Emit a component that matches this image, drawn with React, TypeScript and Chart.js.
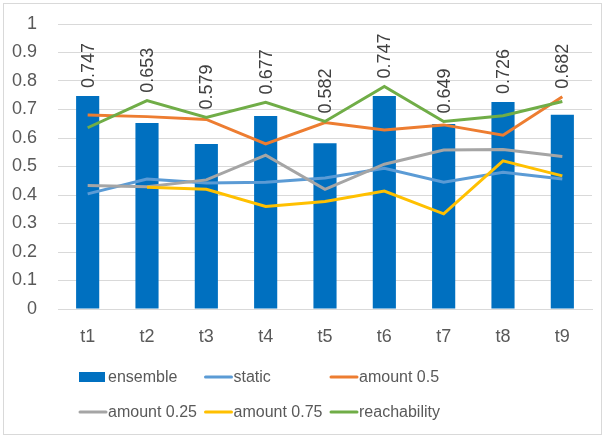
import React, { useEffect, useRef } from "react";
import { Chart, registerables } from "chart.js";

Chart.register(...registerables);

const categories = ["t1", "t2", "t3", "t4", "t5", "t6", "t7", "t8", "t9"];
const ensemble = [0.747, 0.653, 0.579, 0.677, 0.582, 0.747, 0.649, 0.726, 0.682];
const staticVals = [0.404, 0.456, 0.442, 0.445, 0.46, 0.494, 0.445, 0.48, 0.456];
const amount05 = [0.681, 0.675, 0.665, 0.579, 0.654, 0.628, 0.646, 0.61, 0.745];
const amount025 = [0.433, 0.429, 0.453, 0.54, 0.42, 0.508, 0.558, 0.56, 0.535];
const amount075 = [null, 0.427, 0.42, 0.36, 0.377, 0.414, 0.334, 0.52, 0.467];
const reachability = [0.636, 0.731, 0.672, 0.725, 0.658, 0.781, 0.658, 0.678, 0.728];
const yTicks = [0, 0.1, 0.2, 0.3, 0.4, 0.5, 0.6, 0.7, 0.8, 0.9, 1];

const FONT = '"Liberation Sans", Arial, sans-serif';
const TEXT = "#595959";

const extras = {
  id: "extras",
  beforeDraw(chart: any) {
    const ctx = chart.ctx;
    ctx.save();
    ctx.fillStyle = "#ffffff";
    ctx.fillRect(0, 0, chart.width, chart.height);
    ctx.strokeStyle = "#d9d9d9";
    ctx.lineWidth = 1;
    ctx.strokeRect(3.5, 3.5, chart.width - 7, chart.height - 6);
    ctx.restore();
  },
  afterDatasetsDraw(chart: any) {
    const ctx = chart.ctx;
    const yScale = chart.scales.y;
    const barMeta = chart.getDatasetMeta(0);
    ctx.save();
    ctx.font = `18px ${FONT}`;
    ctx.fillStyle = "#404040";
    ctx.textAlign = "left";
    ctx.textBaseline = "middle";
    barMeta.data.forEach((el: any, i: number) => {
      let top = el.y;
      chart.data.datasets.forEach((ds: any) => {
        const v = ds.data[i];
        if (v == null) return;
        top = Math.min(top, yScale.getPixelForValue(v));
      });
      ctx.save();
      ctx.translate(el.x + 1, top - 8);
      ctx.rotate(-Math.PI / 2);
      ctx.fillText(ensemble[i].toFixed(3), 0, 0);
      ctx.restore();
    });
    ctx.restore();
  },
  afterDraw(chart: any) {
    const ctx = chart.ctx;
    const area = chart.chartArea;
    const left = area.left + 21;
    const colW = 125.5;
    const rows = [area.bottom + 68, area.bottom + 103];
    ctx.save();
    ctx.font = `16px ${FONT}`;
    ctx.fillStyle = TEXT;
    ctx.textBaseline = "middle";
    ctx.textAlign = "left";
    chart.data.datasets.forEach((ds: any, i: number) => {
      const col = i % 3;
      const row = Math.floor(i / 3);
      const x = left + col * colW;
      const y = rows[row];
      if (ds.type === "bar") {
        ctx.fillStyle = ds.backgroundColor;
        ctx.fillRect(x, y - 5, 26, 10);
      } else {
        ctx.strokeStyle = ds.borderColor;
        ctx.lineWidth = 3;
        ctx.lineCap = "round";
        ctx.beginPath();
        ctx.moveTo(x + 1, y);
        ctx.lineTo(x + 27, y);
        ctx.stroke();
      }
      ctx.fillStyle = TEXT;
      ctx.fillText(ds.label, x + 29, y + 1);
    });
    ctx.restore();
  },
};

export default function App() {
  const ref = useRef<HTMLCanvasElement | null>(null);
  useEffect(() => {
    if (!ref.current) return;
    const lineDs = (label: string, data: (number | null)[], color: string, order: number) => ({
      type: "line" as const,
      label,
      data,
      borderColor: color,
      backgroundColor: color,
      borderWidth: 3,
      pointRadius: 0,
      pointHoverRadius: 0,
      tension: 0,
      fill: false,
      spanGaps: false,
      order,
    });
    const chart = new Chart(ref.current, {
      type: "bar",
      data: {
        labels: categories,
        datasets: [
          {
            type: "bar" as const,
            label: "ensemble",
            data: ensemble,
            backgroundColor: "#0070c0",
            borderWidth: 0,
            barPercentage: 0.39,
            categoryPercentage: 1,
            order: 10,
          },
          lineDs("static", staticVals, "#5b9bd5", 5),
          lineDs("amount 0.5", amount05, "#ed7d31", 4),
          lineDs("amount 0.25", amount025, "#a5a5a5", 3),
          lineDs("amount 0.75", amount075, "#ffc000", 2),
          lineDs("reachability", reachability, "#70ad47", 1),
        ] as any,
      },
      options: {
        responsive: false,
        animation: false,
        layout: { padding: { top: 24, right: 13, left: 0, bottom: 0 } },
        plugins: {
          legend: { display: false },
          tooltip: { enabled: false },
          title: { display: false },
        },
        scales: {
          x: {
            offset: true,
            grid: { display: false, drawTicks: false },
            border: { display: true, color: "#d9d9d9", width: 1 },
            ticks: { color: TEXT, font: { family: FONT, size: 18 }, padding: 17 },
            afterFit: (s: any) => {
              s.height = 128;
            },
          },
          y: {
            min: 0,
            max: 1,
            grid: { color: "#d9d9d9", lineWidth: 1, drawTicks: false },
            border: { display: false },
            ticks: {
              color: TEXT,
              font: { family: FONT, size: 18 },
              padding: 21,
              callback: (v: any) => String(Number(Number(v).toFixed(1))),
            },
            afterBuildTicks: (s: any) => {
              s.ticks = yTicks.map((v) => ({ value: v }));
            },
            afterFit: (s: any) => {
              s.width = 58;
              s.paddingTop = 0;
              s.paddingBottom = 0;
            },
          },
        },
      },
      plugins: [extras],
    });
    return () => chart.destroy();
  }, []);
  return (
    <div style={{ position: "absolute", left: 0, top: 0, width: 605, height: 437 }}>
      <canvas ref={ref} width={605} height={437} style={{ display: "block" }} />
    </div>
  );
}
